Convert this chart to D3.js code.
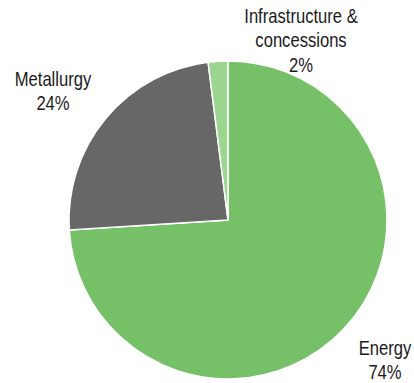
<!DOCTYPE html>
<html>
<head>
<meta charset="utf-8">
<script src="https://cdn.jsdelivr.net/npm/d3@7"></script>
<style>
  html, body { margin: 0; padding: 0; background: #fff; }
  svg text { font-family: "Liberation Sans", Arial, sans-serif; font-size: 20.5px; fill: #1a1a1a; }
</style>
</head>
<body>
<svg id="chart" width="414" height="383"></svg>
<script>
// Revenue split by segment
const categories = ["Energy", "Metallurgy", "Infrastructure & concessions"];
const shares = [74, 24, 2];
const colors = ["#76c168", "#676767", "#9cd590"];
// Label lines per slice and their anchor points
const labelLines = [["Energy", "74%"], ["Metallurgy", "24%"], ["Infrastructure &", "concessions", "2%"]];
const labelPos = [[385, 355], [53, 86], [301, 23]];

const svg = d3.select("#chart");
const cx = 228, cy = 220, r = 159;

const pie = d3.pie().sort(null).value(d => d)(shares);
const arc = d3.arc().innerRadius(0).outerRadius(r);

const g = svg.append("g").attr("transform", `translate(${cx},${cy})`);
g.selectAll("path")
  .data(pie)
  .join("path")
  .attr("d", arc)
  .attr("fill", (d, i) => colors[i])
  .attr("stroke", "#fff")
  .attr("stroke-width", 1.5);

// Condensed label type: squeeze the regular sans horizontally
const lineH = 24.3;
labelLines.forEach((lines, i) => {
  const t = svg.append("text")
    .attr("text-anchor", "middle")
    .attr("transform", `translate(${labelPos[i][0]},${labelPos[i][1]}) scale(0.81,1)`);
  lines.forEach((s, j) => {
    t.append("tspan")
      .attr("x", 0)
      .attr("dy", j === 0 ? 0 : lineH)
      .text(s);
  });
});
</script>
</body>
</html>
